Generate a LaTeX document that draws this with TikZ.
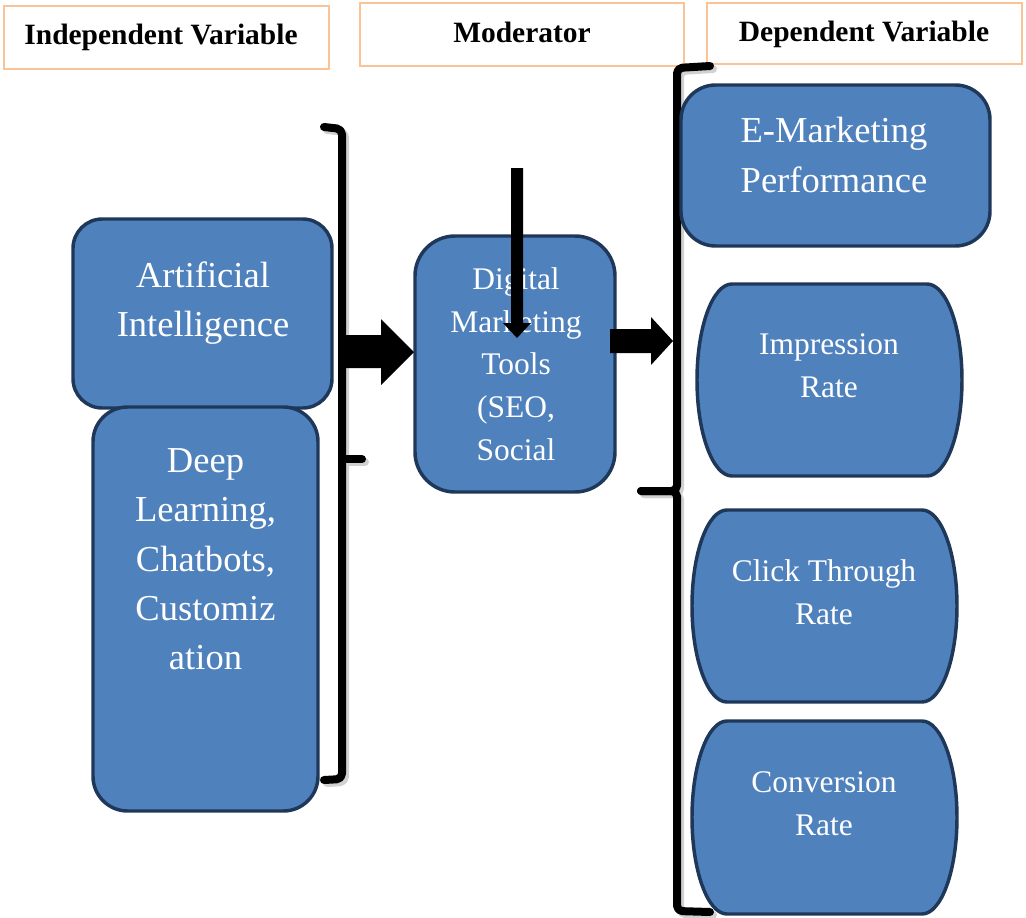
\documentclass[tikz,border=0pt]{standalone}
\usepackage{fontspec}
\setmainfont{Liberation Serif}
\usetikzlibrary{fit}
\definecolor{boxblue}{RGB}{79,129,189}
\definecolor{boxline}{RGB}{31,56,90}
\definecolor{hdrline}{RGB}{250,196,150}
\tikzset{
  bluebox/.style={draw=boxline, fill=boxblue, line width=2.6pt, inner sep=0pt},
  hdrbox/.style={draw=hdrline, line width=1.1pt, fill=white, inner sep=0pt},
  bigtxt/.style={text=white, align=center, font=\fontsize{27.4pt}{37pt}\selectfont, inner sep=0pt},
  midtxt/.style={text=white, align=center, font=\fontsize{23.6pt}{32pt}\selectfont, inner sep=0pt},
  hdrtxt/.style={font=\bfseries\fontsize{22.1pt}{26pt}\selectfont, inner sep=0pt, anchor=base},
  brk/.style={line width=6pt, line cap=round, line join=round, rounded corners=4pt},
  brkshadow/.style={line width=6pt, draw=black!18, line cap=round, line join=round, rounded corners=4pt},
  blockarrow/.style={fill=black}
}
\begin{document}
\begin{tikzpicture}[x=0.75pt,y=-0.75pt]
\useasboundingbox (0,0) rectangle (1026,918);

% header boxes
\node[hdrbox, fit={(4,6)(329,69)}] (hind) {};
\node[hdrbox, fit={(360,3)(684,66)}] (hmod) {};
\node[hdrbox, fit={(707,3)(1022,64)}] (hdep) {};
\node[hdrtxt] (tind) at (161,44) {Independent Variable};
\node[hdrtxt] (tmod) at (522,42) {Moderator};
\node[hdrtxt] (tdep) at (864,41) {Dependent Variable};

% brackets (shadows)
\draw[brkshadow] (327,130) -- (345,132) -- (345,782) -- (327,783);
\draw[brkshadow] (345,462) -- (365,462);
\draw[brkshadow] (713,69) -- (680,71) -- (680,494) -- (644,494);
\draw[brkshadow] (644,494) -- (680,494) -- (680,914) -- (713,915);
% left bracket
\draw[brk] (324,127) -- (342,129) -- (342,779) -- (324,780);
\draw[brk] (342,459) -- (362,459);
% right brace
\draw[brk] (710,66) -- (677,68) -- (677,491) -- (641,491);
\draw[brk] (641,491) -- (677,491) -- (677,911) -- (710,912);

% independent variable boxes
\node[bluebox, rounded corners=22pt, fit={(73,219)(332,408)}] (ai) {};
\node[bluebox, rounded corners=26pt, fit={(93,407)(318,811)}] (dl) {};
\node[bigtxt] (aitxt) at (203,303) {Artificial\\Intelligence};
\node[bigtxt] (dltxt) at (205.5,559.4) {Deep\\Learning,\\Chatbots,\\Customiz\\ation};

% moderator box
\node[bluebox, rounded corners=30pt, fit={(415,236)(615,492)}] (dig) {};
\node[midtxt] (digtxt) at (516,364) {Digital\\Marketing\\Tools\\(SEO,\\Social};

% dependent variable boxes
\node[bluebox, rounded corners=26pt, fit={(681,85)(990,246)}] (emp) {};
\node[bigtxt] (emptxt) at (834,155) {E-Marketing\\Performance};

\draw[bluebox] (732,284) -- (927,284) .. controls (946.3,284) and (962,327) .. (962,380)
  .. controls (962,433) and (946.3,476) .. (927,476) -- (732,476)
  .. controls (712.7,476) and (697,433) .. (697,380)
  .. controls (697,327) and (712.7,284) .. (732,284) -- cycle;
\node[midtxt] (imptxt) at (829,365.5) {Impression\\Rate};

\draw[bluebox] (727,510) -- (922,510) .. controls (941.3,510) and (957,553) .. (957,606)
  .. controls (957,659) and (941.3,702) .. (922,702) -- (727,702)
  .. controls (707.7,702) and (692,659) .. (692,606)
  .. controls (692,553) and (707.7,510) .. (727,510) -- cycle;
\node[midtxt] (ctrtxt) at (824,592) {Click Through\\Rate};

\draw[bluebox] (727,721) -- (922,721) .. controls (941.3,721) and (957,764.2) .. (957,817.5)
  .. controls (957,870.8) and (941.3,914) .. (922,914) -- (727,914)
  .. controls (707.7,914) and (692,870.8) .. (692,817.5)
  .. controls (692,764.2) and (707.7,721) .. (727,721) -- cycle;
\node[midtxt] (cvrtxt) at (824,804) {Conversion\\Rate};

% block arrows
\fill[blockarrow] (345,335) -- (381,335) -- (381,319) -- (414,352) -- (381,385) -- (381,368) -- (345,368) -- cycle;
\fill[blockarrow] (610,329) -- (651,329) -- (651,317) -- (673,341) -- (651,365) -- (651,353) -- (610,353) -- cycle;
\fill[blockarrow] (511,168) -- (523,168) -- (523,323) -- (531,323) -- (517,338) -- (503,323) -- (511,323) -- cycle;
\end{tikzpicture}
\end{document}
